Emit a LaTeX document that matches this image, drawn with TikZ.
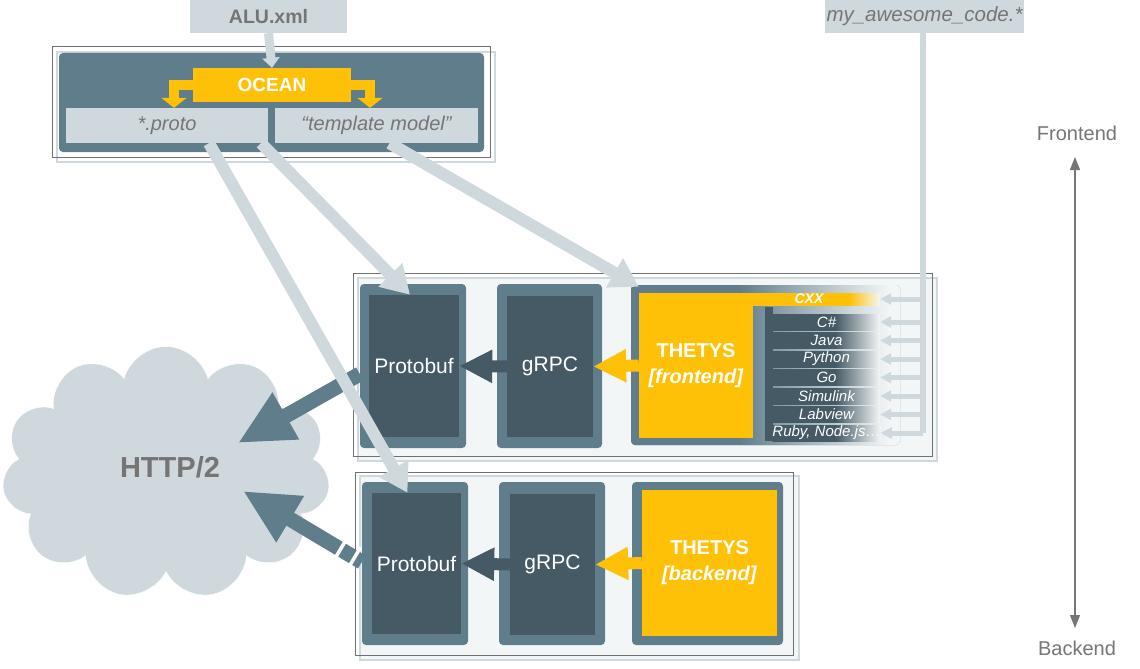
\documentclass[tikz,border=0pt]{standalone}
\usepackage{fontspec}
\setmainfont{Liberation Sans}
\usetikzlibrary{arrows.meta,shapes.symbols}
\definecolor{slate}{HTML}{607D8B}
\definecolor{slatedark}{HTML}{455A64}
\definecolor{pale}{HTML}{CFD8DC}
\definecolor{amber}{HTML}{FFC107}
\definecolor{rowbg}{HTML}{F3F6F7}
\definecolor{txtgray}{HTML}{757575}
\definecolor{framegray}{HTML}{707070}
\pgfdeclarehorizontalshading{barfade}{100bp}{color(0bp)=(slatedark); color(54bp)=(slatedark); color(75bp)=(rowbg); color(100bp)=(rowbg)}
\pgfdeclarehorizontalshading{outerfade}{100bp}{color(0bp)=(slate); color(45bp)=(slate); color(73bp)=(rowbg); color(100bp)=(rowbg)}
\pgfdeclarehorizontalshading{cxxfade}{100bp}{color(0bp)=(amber); color(63bp)=(amber); color(75bp)=(rowbg); color(100bp)=(rowbg)}
\begin{document}
\begin{tikzpicture}[x=1pt,y=-1pt,
  filebox/.style={fill=pale,text=txtgray,inner sep=0pt,font=\fontsize{20}{24}\selectfont\itshape},
  outerbox/.style={fill=slate,rounded corners=4pt,inner sep=0pt},
  innerbox/.style={fill=slatedark,text=white,inner sep=0pt,font=\fontsize{21}{25}\selectfont},
  thetysbox/.style={fill=amber,text=white,inner sep=0pt,align=center,font=\fontsize{20}{26}\selectfont\bfseries},
  langbar/.style={shade,shading=barfade,minimum width=107pt,minimum height=16pt,inner sep=0pt,text=white,font=\fontsize{15}{17}\selectfont\itshape},
  rowframe/.style={draw=pale,line width=1.5pt,fill=rowbg},
  rowedge/.style={draw=framegray,line width=1pt},
  palearrow/.style={draw=pale,line width=12pt,-{Triangle[length=28pt,width=32pt]}},
  darkarrow/.style={draw=slatedark,line width=12pt,-{Triangle[length=33pt,width=31pt]}},
  amberarrow/.style={draw=amber,line width=12pt,-{Triangle[length=33pt,width=31pt]}},
  slatearrow/.style={draw=slate,line width=15pt,-{Triangle[length=55pt,width=50pt]}},
  breakmark/.style={draw=white,line width=3.5pt},
  feedarrow/.style={draw=pale,line width=5pt,-{Triangle[length=11pt,width=11pt]}},
  axisarrow/.style={draw=txtgray,line width=1.2pt,{Triangle[length=13pt,width=10pt]}-{Triangle[length=13pt,width=10pt]}}]
\useasboundingbox (0,0) rectangle (1140,669);
\draw[rowframe] (358,278) rectangle (937,461);
\draw[rowedge] (353,273) rectangle (932,456);
\draw[rowframe] (360,476) rectangle (799,660);
\draw[rowedge] (355,472) rectangle (793,655);
\draw[draw=pale,line width=1.5pt] (57,52) rectangle (495,162);
\draw[rowedge] (52,47) rectangle (490,157);
\fill[slate,rounded corners=4pt] (59,53) rectangle (484,152);

\node[fill=pale,text=txtgray,inner sep=0pt,minimum width=157pt,minimum height=33pt,font=\fontsize{19.5}{22}\selectfont\bfseries] (alu) at (268.5,16.5) {ALU.xml};
\node[fill=amber,text=white,inner sep=0pt,minimum width=158pt,minimum height=34pt,font=\fontsize{19}{22}\selectfont\bfseries] (ocean) at (272,85) {OCEAN};
\node[filebox,minimum width=202pt,minimum height=35pt] (protofile) at (167,125.5) {*.proto};
\node[filebox,minimum width=203pt,minimum height=35pt] (tmplfile) at (376.5,125.5) {“template model”};
\node[filebox,minimum width=199pt,minimum height=33pt,font=\fontsize{20.5}{24}\selectfont\itshape] (code) at (924.5,16.5) {my\_awesome\_code.*};
\coordinate (leftdrop) at ([xshift=7pt]protofile.north);
\coordinate (rightdrop) at ([xshift=-6.5pt]tmplfile.north);
\draw[draw=pale,line width=9pt,-{Triangle[length=10pt,width=17pt]}] (alu.south) -- (ocean.north);
\draw[draw=amber,line width=10pt,-{Triangle[length=10pt,width=25pt]}] (ocean.west) -| (leftdrop);
\draw[draw=amber,line width=10pt,-{Triangle[length=10pt,width=25pt]}] (ocean.east) -| (rightdrop);

\node[cloud,cloud puffs=11,aspect=1.3,fill=pale,draw=white,inner sep=0pt,minimum width=328pt,minimum height=253pt] (http) at (166,473) {};
\node[text=txtgray,font=\fontsize{29}{32}\selectfont\bfseries] (httplabel) at (170,467) {HTTP/2};

\node[outerbox,minimum width=106pt,minimum height=164pt] (protoAouter) at (413,366) {};
\node[innerbox,minimum width=90pt,minimum height=142pt] (protoA) at (414,366) {Protobuf};
\node[outerbox,minimum width=105pt,minimum height=164pt] (grpcAouter) at (549.5,366) {};
\node[innerbox,minimum width=86pt,minimum height=141pt] (grpcA) at (550,366.5) {gRPC};
\node[outerbox,shade,shading=outerfade,minimum width=269pt,minimum height=160pt] (thetysAouter) at (765.5,365) {};
\node[thetysbox,minimum width=114pt,minimum height=145pt] (thetysA) at (696,365.5) {THETYS\\\textit{[frontend]}};
\node[shade,shading=cxxfade,inner sep=0pt,minimum width=127pt,minimum height=12pt] (cxxbar) at (816.5,299) {};
\node[text=white,inner sep=0pt,font=\fontsize{14}{16}\selectfont\bfseries\itshape] (cxx) at (809,299) {CXX};
\fill[slatedark] (765,307) rectangle (773,441);
\foreach \lang [count=\i] in {C\#,Java,Python,Go,Simulink,Labview,{Ruby, Node.js\ldots}}
  \node[langbar] (lang\i) at (826.5,{322+(\i-1)*18.5}) {\lang};

\node[outerbox,minimum width=106pt,minimum height=163pt] (protoBouter) at (415,563.5) {};
\node[innerbox,minimum width=89pt,minimum height=141pt] (protoB) at (416.5,563.5) {Protobuf};
\node[outerbox,minimum width=106pt,minimum height=163pt] (grpcBouter) at (552,563.5) {};
\node[innerbox,minimum width=85pt,minimum height=141pt] (grpcB) at (552.5,564.5) {gRPC};
\node[outerbox,minimum width=151pt,minimum height=163pt] (thetysBouter) at (707.5,563.5) {};
\node[thetysbox,minimum width=135pt,minimum height=146pt] (thetysB) at (709.5,563) {THETYS\\\textit{[backend]}};

\draw[darkarrow] (grpcA.west) -- (protoA.east);
\draw[amberarrow] (thetysA.west) -- (grpcA.east);
\draw[darkarrow] (grpcB.west) -- (protoB.east);
\draw[amberarrow] (thetysB.west) -- (grpcB.east);

\coordinate (cloudA) at (238,443);
\coordinate (cloudB) at (243,491);
\draw[slatearrow] ([yshift=-8pt]protoAouter.west) -- (cloudA);
\draw[slatearrow] ([yshift=1.5pt]protoBouter.west) -- (cloudB);
\draw[breakmark] (341.6,370.7) -- (353.4,391.5);
\draw[breakmark] (334.4,559.5) -- (346.6,538.9);
\draw[breakmark] (348.4,567.8) -- (360.6,547.2);

\draw[palearrow] ([xshift=42pt]protofile.south) -- ([xshift=-9pt]protoB.north);
\draw[palearrow] ([xshift=94pt]protofile.south) -- ([xshift=-4pt]protoA.north);
\draw[palearrow] ([xshift=13pt]tmplfile.south) -- ([yshift=6pt]thetysA.north west);

\coordinate (feedend) at (922.5,433);
\draw[draw=pale,line width=6pt] (code.south -| feedend) -- (feedend);
\draw[feedarrow] (cxxbar.east -| feedend) -- (cxxbar.east);
\foreach \i in {1,...,7}
  \draw[feedarrow] (lang\i.east -| feedend) -- (lang\i.east);

\node[text=txtgray,font=\fontsize{20}{24}\selectfont] (frontend) at (1077,133) {Frontend};
\node[text=txtgray,font=\fontsize{20}{24}\selectfont] (backend) at (1077,648) {Backend};
\coordinate (axtop) at (1075,157);
\coordinate (axbot) at (1075,628);
\draw[axisarrow] (axtop) -- (axbot);
\end{tikzpicture}
\end{document}
